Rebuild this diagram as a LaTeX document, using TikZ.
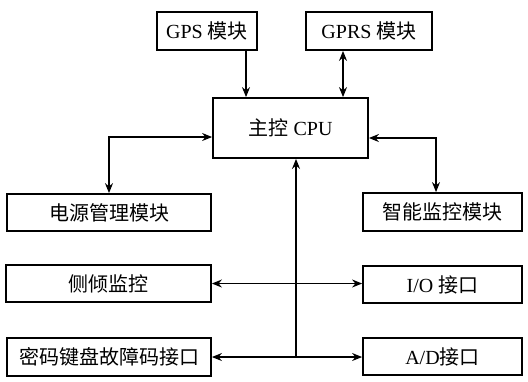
\documentclass[tikz,border=0pt]{standalone}
\usepackage{fontspec}
\setmainfont{Liberation Serif}
\newfontfamily\cjk{Noto Sans CJK SC}
\usetikzlibrary{arrows.meta}

\tikzset{
    blk/.style={draw, line width=0.9pt, inner sep=0pt, font=\fontsize{10pt}{12pt}\selectfont},
    link/.style={line width=0.6pt}
}

\begin{document}
\begin{tikzpicture}[x=0.5pt, y=-0.5pt, >={Stealth[length=5pt,width=4pt]}]

    \useasboundingbox (0,0) rectangle (528,381);

    % ---------- 上方模块 ----------
    \node[blk, minimum width=50pt, minimum height=19pt] (gps) at (207,31) {GPS {\cjk 模块}};
    \node[blk, minimum width=63pt, minimum height=19pt] (gprs) at (369,31) {GPRS {\cjk 模块}};

    % ---------- 主控 ----------
    \node[blk, minimum width=77.5pt, minimum height=30pt] (cpu) at (290.5,128) {{\cjk 主控} CPU};

    % ---------- 左右两列 ----------
    \node[blk, minimum width=102pt, minimum height=18.5pt] (power)  at (109,212.5)   {\cjk 电源管理模块};
    \node[blk, minimum width=79.5pt, minimum height=19pt] (smart)  at (442.5,212)   {\cjk 智能监控模块};
    \node[blk, minimum width=102.5pt, minimum height=18.5pt] (tilt) at (108.5,283.5) {\cjk 侧倾监控};
    \node[blk, minimum width=79.5pt, minimum height=18.5pt] (io)    at (442.5,284.5) {I/O {\cjk 接口}};
    \node[blk, minimum width=102pt, minimum height=19pt] (keypad)  at (109,357)     {\cjk 密码键盘故障码接口};
    \node[blk, minimum width=79.5pt, minimum height=18.5pt] (ad)    at (442.5,356.5) {A/D{\cjk 接口}};

    % ---------- 连线 ----------
    \coordinate (gpsx) at (246,0);
    \coordinate (gprsx) at (343,0);
    \coordinate (bus) at (296,356);

    \draw[link, ->]  (gps.south -| gpsx) -- (cpu.north -| gpsx);
    \draw[link, <->] (gprs.south -| gprsx) -- (cpu.north -| gprsx);
    \draw[link, <->] ([yshift=-4.5pt]cpu.west) -| (power.north);
    \draw[link, <->] ([yshift=-5pt]cpu.east) -| ([xshift=-3.25pt]smart.north);

    % 总线
    \draw[link, ->]  (bus) -- (bus |- cpu.south);
    \draw[link, <->] (tilt.east) -- (tilt.east -| io.west);
    \draw[link, <->] (keypad.east) -- (keypad.east -| ad.west);

\end{tikzpicture}
\end{document}
